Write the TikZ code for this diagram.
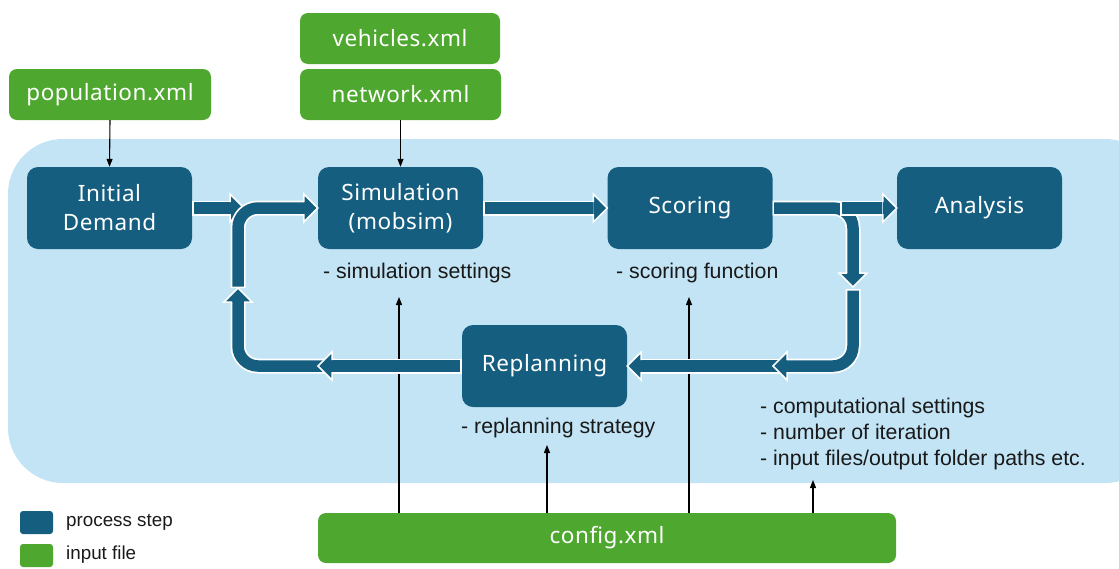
\documentclass[tikz,border=0pt]{standalone}
\usepackage{fontspec}
\setmainfont{Liberation Sans}
\newfontfamily\boxfont[LetterSpace=2.5]{Noto Sans}
\usetikzlibrary{arrows.meta,calc}
\definecolor{dblue}{RGB}{22,94,128}
\definecolor{igreen}{RGB}{78,167,46}
\definecolor{lblue}{RGB}{194,228,245}
\definecolor{labtext}{RGB}{25,25,25}
\newcommand\myshaft[1]{\draw[shaftout] #1; \draw[shaftin] #1;}
\newcommand\myhead[2]{%
  \begin{scope}[shift={(#1)},rotate=#2]
    \fill[dblue] (0,0) -- (-14,-14) -- (-14,14) -- cycle;
    \draw[headedge] (-14,-6) -- (-14,-14) -- (0,0) -- (-14,14) -- (-14,6);
  \end{scope}}
\begin{document}
\begin{tikzpicture}[x=1pt,y=-1pt,
  procbox/.style={fill=dblue,rounded corners=11pt,minimum width=165pt,minimum height=82pt,
    inner sep=0pt,text=white,align=center,font=\boxfont\fontsize{22.5}{29}\selectfont},
  filebox/.style={fill=igreen,rounded corners=8pt,minimum height=51pt,
    inner sep=0pt,text=white,align=center,font=\boxfont\fontsize{22.5}{26}\selectfont},
  lab/.style={anchor=west,inner sep=0pt,text=labtext,font=\fontsize{21.3}{26}\selectfont},
  legbox/.style={rounded corners=3pt,minimum width=33pt,minimum height=23pt,inner sep=0pt},
  leglab/.style={anchor=west,inner sep=0pt,text=labtext,font=\fontsize{18.8}{22}\selectfont},
  shaftout/.style={draw=white,line width=15pt,rounded corners=20pt},
  shaftin/.style={draw=dblue,line width=11.5pt,rounded corners=20pt,shorten <=1.5pt},
  headedge/.style={draw=white,line width=1.5pt,line join=miter},
  thinarr/.style={draw=black,line width=1.1pt,-{Triangle[length=8pt,width=6pt]}}]
\useasboundingbox (0,0) rectangle (1119,568);
\begin{scope}
\clip (0,0) rectangle (1119,568);
\fill[lblue,rounded corners=55pt] (8,139) rectangle (1160,483);
\end{scope}
% input files
\node[filebox,minimum width=202pt] (pop) at (110,94.5) {population.xml};
\node[filebox,minimum width=200pt] (veh) at (400,38.5) {vehicles.xml};
\node[filebox,minimum width=201pt] (net) at (400.5,94.5) {network.xml};
\node[filebox,minimum width=578pt,minimum height=50pt] (cfg) at (607,538) {config.xml};
% process steps
\node[procbox] (init) at (109.5,208) {Initial\\Demand};
\node[procbox] (sim) at (400.5,208) {Simulation\\(mobsim)};
\node[procbox] (score) at (690,208) {Scoring};
\node[procbox] (ana) at (979.5,208) {Analysis};
\node[procbox] (rep) at (544.5,366) {Replanning};
% labels
\node[lab] (simlab) at (323,273) {- simulation settings};
\node[lab] (scolab) at (616,273) {- scoring function};
\node[lab] (replab) at (461,428) {- replanning strategy};
\node[lab,align=left,font=\fontsize{21.3}{26}\selectfont] (cfglab) at (760,434)
  {- computational settings\\- number of iteration\\- input files/output folder paths etc.};
% legend
\node[legbox,fill=dblue] (lg1) at (36.5,522.5) {};
\node[legbox,fill=igreen] (lg2) at (36.5,555.5) {};
\node[leglab] (lg1t) at (66,522) {process step};
\node[leglab] (lg2t) at (66,555) {input file};
% thin arrows
\draw[thinarr] (pop.south) -- (init.north);
\draw[thinarr] (net.south) -- (sim.north);
\coordinate (t1) at (399,297);
\coordinate (t2) at (547,445);
\coordinate (t3) at (689,297);
\coordinate (t4) at (813,480);
\draw[thinarr] (t1 |- cfg.north) -- (t1);
\draw[thinarr] (t2 |- cfg.north) -- (t2);
\draw[thinarr] (t3 |- cfg.north) -- (t3);
\draw[thinarr] (t4 |- cfg.north) -- (t4);
% thick arrows
\coordinate (h1) at (244,208);
\myshaft{(init.east) -- (230,208)}
\myhead{h1}{0}
\myshaft{(238,288) -- (238,208) -- (304,208)}
\myhead{sim.west}{0}
\coordinate (h3) at (238,288);
\myshaft{(335,366) -- (238,366) -- (238,302)}
\myhead{h3}{90}
\coordinate (h4) at (318,366);
\myshaft{(rep.west) -- (332,366)}
\myhead{h4}{180}
\myshaft{(sim.east) -- (593,208)}
\myhead{score.west}{0}
\coordinate (h6) at (853,287);
\myshaft{(score.east) -- (853,208) -- (853,273)}
\myhead{h6}{270}
\myshaft{(840,208) -- (882,208)}
\myhead{ana.west}{0}
\myshaft{(787,366) -- (641,366)}
\myhead{rep.east}{180}
\coordinate (h8) at (773,366);
\myshaft{(853,289) -- (853,366) -- (787,366)}
\myhead{h8}{180}
\end{tikzpicture}
\end{document}
